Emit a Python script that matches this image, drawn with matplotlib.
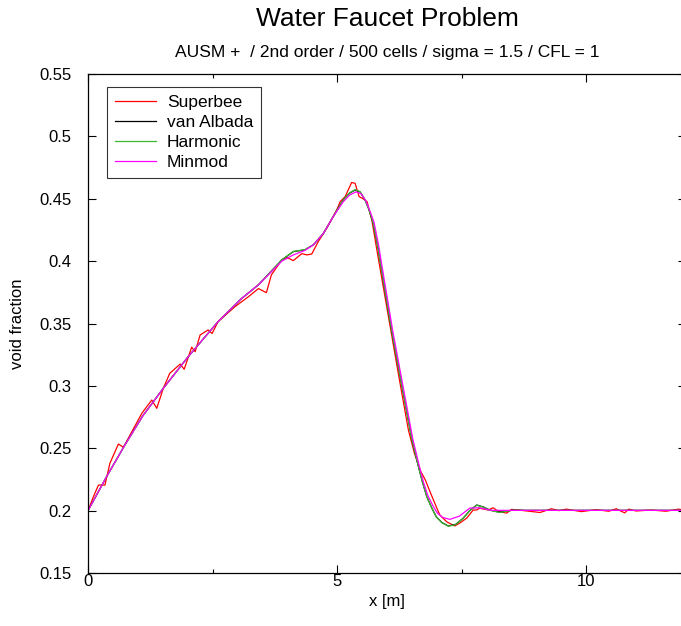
import matplotlib
matplotlib.use("Agg")
import matplotlib.pyplot as plt
from matplotlib.ticker import MultipleLocator

plt.rcParams['font.family'] = ['Liberation Sans', 'DejaVu Sans']

title = "Water Faucet Problem"
subtitle = "AUSM +  / 2nd order / 500 cells / sigma = 1.5 / CFL = 1"
xlabel = "x [m]"
ylabel = "void fraction"

# van Albada (smooth reference)
va_x = [0.0, 0.37, 0.74, 1.1, 1.51, 2.01, 2.61, 3.08, 3.42, 3.89, 4.12, 4.35, 4.52,
        4.72, 4.92, 5.12, 5.25, 5.36, 5.46, 5.56, 5.64, 5.72, 5.81, 5.9, 6.0, 6.1, 6.3,
        6.5, 6.62, 6.71, 6.8, 6.9, 6.99, 7.1, 7.23, 7.38, 7.53, 7.66, 7.8, 7.93,
        8.06, 8.26, 8.53, 8.8, 12.0]
va_y = [0.200, 0.227, 0.2526, 0.276, 0.298, 0.3234, 0.3515, 0.370, 0.381, 0.401, 0.4076,
        0.409, 0.413, 0.422, 0.4356, 0.449, 0.4545, 0.457, 0.4555, 0.449, 0.441, 0.431, 0.413,
        0.391, 0.367, 0.343, 0.300, 0.257, 0.237, 0.223, 0.211, 0.202, 0.195, 0.1905,
        0.1877, 0.189, 0.194, 0.200, 0.2045, 0.203, 0.2005, 0.1987, 0.2005, 0.2002, 0.2002]

# Harmonic
hm_x = va_x
hm_y = [0.200, 0.227, 0.2526, 0.276, 0.298, 0.3234, 0.3515, 0.370, 0.381, 0.401, 0.4078,
        0.4092, 0.413, 0.422, 0.4356, 0.449, 0.4548, 0.4573, 0.4557, 0.449, 0.441, 0.431, 0.413,
        0.391, 0.367, 0.343, 0.300, 0.257, 0.237, 0.223, 0.211, 0.202, 0.195, 0.1903,
        0.1875, 0.1888, 0.1938, 0.200, 0.2043, 0.2028, 0.2003, 0.1985, 0.2004, 0.2002, 0.2002]

# Minmod
mm_x = [0.0, 0.37, 0.74, 1.1, 1.51, 2.01, 2.61, 3.08, 3.42, 3.89, 4.12, 4.35, 4.52,
        4.72, 4.92, 5.12, 5.25, 5.38, 5.48, 5.58, 5.66, 5.74, 5.83, 5.92, 6.02, 6.12, 6.32,
        6.52, 6.64, 6.73, 6.82, 6.92, 7.01, 7.12, 7.26, 7.45, 7.66, 7.85, 8.1, 8.5, 12.0]
mm_y = [0.200, 0.227, 0.2526, 0.276, 0.298, 0.3234, 0.3515, 0.370, 0.381, 0.400, 0.405,
        0.4085, 0.413, 0.422, 0.4356, 0.4475, 0.453, 0.4555, 0.454, 0.448, 0.440, 0.431, 0.413,
        0.391, 0.367, 0.343, 0.300, 0.257, 0.237, 0.223, 0.212, 0.204, 0.198, 0.1945,
        0.193, 0.1955, 0.202, 0.2023, 0.2002, 0.2002, 0.2002]

# Superbee
sb_x = [0.0, 0.107, 0.21, 0.34, 0.44, 0.61, 0.71, 0.88, 1.08, 1.28, 1.38, 1.51, 1.64,
        1.85, 1.93, 2.08, 2.15, 2.25, 2.41, 2.49, 2.61, 2.95, 3.22, 3.42, 3.58, 3.68,
        3.89, 3.99, 4.12, 4.29, 4.39, 4.49, 4.62, 4.79, 4.99, 5.06, 5.16, 5.29, 5.36,
        5.44, 5.52, 5.6, 5.7, 5.82, 6.04, 6.24, 6.43, 6.55, 6.67, 6.77, 6.87, 6.99, 7.06,
        7.2, 7.36, 7.46, 7.6, 7.73, 7.8, 7.86, 8.03, 8.13, 8.23, 8.4, 8.5, 8.7, 9.07,
        9.3, 9.45, 9.6, 9.9, 10.2, 10.45, 10.6, 10.7, 10.77, 10.85, 11.0, 11.3, 11.6,
        11.85, 12.0]
sb_y = [0.200, 0.211, 0.2205, 0.2205, 0.238, 0.2534, 0.2508, 0.2633, 0.278, 0.2887,
        0.282, 0.298, 0.310, 0.3175, 0.3133, 0.331, 0.3274, 0.3408, 0.3448, 0.342,
        0.3515, 0.3635, 0.3715, 0.378, 0.3747, 0.389, 0.401, 0.403, 0.4004, 0.406,
        0.405, 0.4057, 0.4156, 0.4263, 0.441, 0.4476, 0.4517, 0.463, 0.4624, 0.4517,
        0.450, 0.4477, 0.432, 0.4036, 0.353, 0.307, 0.2646, 0.246, 0.232, 0.2245, 0.2145,
        0.203, 0.1965, 0.191, 0.1877, 0.190, 0.194, 0.2005, 0.2005, 0.2019, 0.2005,
        0.2023, 0.1995, 0.198, 0.201, 0.2002, 0.1985, 0.2015, 0.2, 0.2012, 0.1992,
        0.2008, 0.1995, 0.2015, 0.1995, 0.1982, 0.2012, 0.1997, 0.2005, 0.1995, 0.2012, 0.2002]

fig = plt.figure(figsize=(6.81, 6.26), dpi=100)
ax = fig.add_axes([88 / 681, 53 / 626, 598 / 681, 499 / 626])

lw = 0.9
ax.plot(sb_x, sb_y, color='#ff0000', lw=lw, label='Superbee')
ax.plot(va_x, va_y, color='#000000', lw=lw, label='van Albada')
ax.plot(hm_x, hm_y, color='#3cb832', lw=lw, label='Harmonic')
ax.plot(mm_x, mm_y, color='#ff00ff', lw=lw, label='Minmod')

ax.set_xlim(0, 12)
ax.set_ylim(0.15, 0.55)
ax.xaxis.set_major_locator(MultipleLocator(5))
ax.xaxis.set_minor_locator(MultipleLocator(2.5))
ax.set_yticks([0.15, 0.2, 0.25, 0.3, 0.35, 0.4, 0.45, 0.5, 0.55])
ax.set_yticklabels(['0.15', '0.2', '0.25', '0.3', '0.35', '0.4', '0.45', '0.5', '0.55'])
ax.tick_params(which='both', direction='in', top=True, right=True, labelsize=12, width=0.8)
ax.tick_params(which='major', length=6)
ax.tick_params(which='minor', length=3)
ax.tick_params(axis='y', which='major', pad=12)
ax.tick_params(axis='x', which='major', pad=1)
for s in ax.spines.values():
    s.set_linewidth(0.9)

ax.set_xlabel(xlabel, fontsize=12, labelpad=3)
fig.text(18 / 681, 0.5 * (53 + 552) / 626, ylabel, rotation=90, ha='center', va='center', fontsize=12)

fig.text(387 / 681, 1 - 19 / 626, title, ha='center', va='center', fontsize=19)
fig.text(387 / 681, 1 - 53 / 626, subtitle, ha='center', va='center', fontsize=12.5)

leg = ax.legend(loc='upper left', bbox_to_anchor=((107 - 88) / 598, 1 - (87 - 74) / 499),
                fontsize=12.5, frameon=True, fancybox=False, edgecolor='black',
                handlelength=2.4, handletextpad=0.6, borderpad=0.45, labelspacing=0.28,
                borderaxespad=0.0)
leg.get_frame().set_linewidth(0.8)

fig.savefig('out.png', dpi=100)
